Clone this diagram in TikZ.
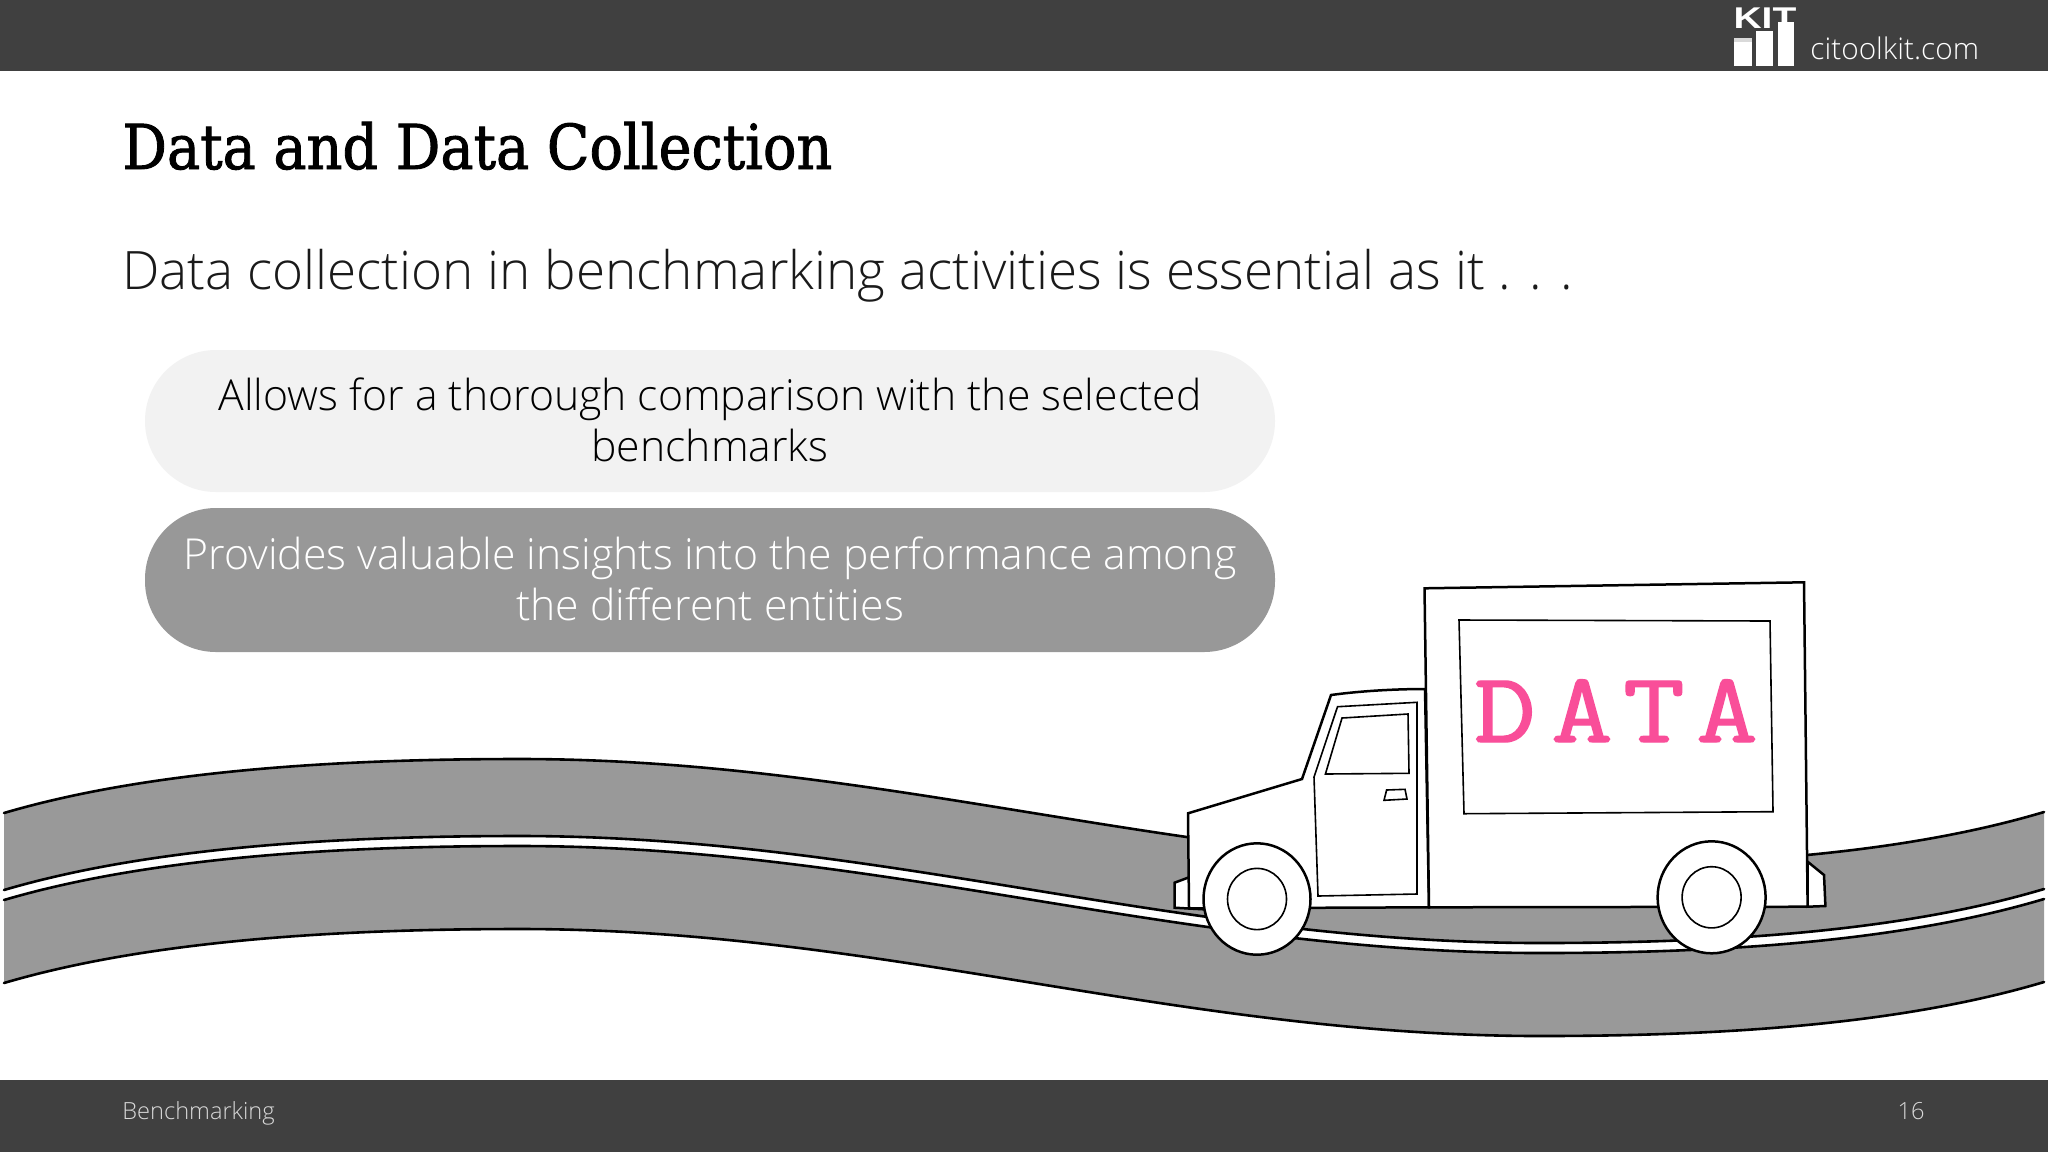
\documentclass[tikz,border=0pt]{standalone}
\usepackage{fontspec}
\setmainfont{Open Sans}[UprightFont=* Light]
\newfontfamily\titlefont{DejaVu Serif}[FakeBold=1.5]
\newfontfamily\kitfont{Liberation Sans}
\newfontfamily\datafont{Latin Modern Mono}[FakeBold=1.3]
\definecolor{barc}{HTML}{404040}
\definecolor{pillA}{HTML}{F2F2F2}
\definecolor{pillB}{HTML}{989898}
\definecolor{roadc}{HTML}{999999}
\definecolor{pinkc}{HTML}{F94E99}
\definecolor{inkc}{HTML}{1A1A1A}
\tikzset{
  bar/.style={fill=barc,draw=none},
  pill/.style={rounded corners=35.5pt},
  pilltext/.style={font=\fontsize{21.35pt}{25.5pt}\selectfont,align=center,anchor=center},
  roadline/.style={draw=black,line width=1.3pt,line cap=round},
  truckline/.style={draw=black,line width=1.25pt,fill=white,line join=miter},
  thinline/.style={draw=black,line width=0.8pt,fill=white},
  dataletter/.style={anchor=base,inner sep=0pt,text=pinkc,transform shape,xscale=1.2,font=\datafont\fontsize{50pt}{52pt}\selectfont},
}
% road curve at vertical offset #1, forward and backward
\newcommand{\rdfwd}[1]{(4,813+#1) .. controls (150,770+#1) and (340,759+#1) .. (520,759+#1) .. controls (880,759+#1) and (1180,866+#1) .. (1540,866+#1) .. controls (1720,866+#1) and (1900,855+#1) .. (2044,812+#1)}
\newcommand{\rdbwd}[1]{(2044,812+#1) .. controls (1900,855+#1) and (1720,866+#1) .. (1540,866+#1) .. controls (1180,866+#1) and (880,759+#1) .. (520,759+#1) .. controls (340,759+#1) and (150,770+#1) .. (4,813+#1)}
\begin{document}
\begin{tikzpicture}[x=0.5pt,y=-0.5pt]
\useasboundingbox (0,0) rectangle (2048,1152);
\fill[white] (0,0) rectangle (2048,1152);
\fill[bar] (0,0) rectangle (2048,71);
\fill[bar] (0,1080) rectangle (2048,1152);
% logo
\fill[white!85!black] (1734,38) rectangle (1752,66);
\fill[white] (1734,42) rectangle (1752,66);
\fill[white] (1756,31) rectangle (1773,66);
\fill[white] (1778,22) rectangle (1794,66);
\node[anchor=base west,inner sep=0pt,text=white,transform shape,xscale=1.3,font=\kitfont\bfseries\fontsize{15pt}{15pt}\selectfont] (kit) at (1733,28) {KIT};
\node[anchor=base west,inner sep=0pt,text=white,font=\fontsize{14.9pt}{18pt}\selectfont] (site) at (1810,59) {citoolkit.com};
% title
\node[anchor=base west,inner sep=0pt,text=black,transform shape,xscale=0.898,font=\titlefont\fontsize{31pt}{32pt}\selectfont] (title) at (122,169) {Data and Data Collection};
\node[anchor=base west,inner sep=0pt,text=inkc,font=\fontsize{26.5pt}{32pt}\selectfont] (sub) at (122,289) {Data collection in benchmarking activities is essential as it . . .};
% pills
\fill[pillA,pill] (145,350) rectangle (1275,492);
\fill[pillB,pill] (145,508) rectangle (1275,652);
\node[pilltext,text=black] (pa) at (710,420) {Allows for a thorough comparison with the selected\\benchmarks};
\node[pilltext,text=white] (pb) at (710,579) {Provides valuable insights into the performance among\\the different entities};
% road
\fill[roadc] \rdfwd{0} -- \rdbwd{77} -- cycle;
\fill[roadc] \rdfwd{87} -- \rdbwd{170} -- cycle;
\draw[roadline] \rdfwd{0};
\draw[roadline] \rdfwd{77};
\draw[roadline] \rdfwd{87};
\draw[roadline] \rdfwd{170};
% truck
\path[truckline] (1189,877.3) -- (1174.5,882.7) -- (1174.5,907.7) -- (1203.6,909.3) -- cycle;
\path[truckline] (1807.6,861.7) -- (1824,875) -- (1825.4,906) -- (1807.6,906.7) -- cycle;
\path[truckline] (1189,908.3) -- (1188,813.3) -- (1302,779) -- (1331,695) .. controls (1360,691) and (1395,689) .. (1425,689) -- (1429,907.3) -- cycle;
\path[thinline] (1337.5,706.7) -- (1417,702.3) -- (1417,894) -- (1318,896) -- (1314,777) -- cycle;
\path[thinline] (1342,718) -- (1408,714) -- (1409,773.3) -- (1325.4,774) -- cycle;
\path[thinline] (1386.6,790) -- (1405,789.3) -- (1407,799) -- (1384,800.3) -- cycle;
\path[truckline] (1424.5,588.3) -- (1804,582.3) -- (1807.6,906.7) -- (1429,907.3) -- cycle;
\path[thinline] (1459,620) -- (1770,621) -- (1773,811.7) -- (1464,813.7) -- cycle;
\node[dataletter] (dataD) at (1505,742) {D};
\node[dataletter] (dataA) at (1582,742) {A};
\node[dataletter] (dataT) at (1654,742) {T};
\node[dataletter] (dataB) at (1727,742) {A};
\path[truckline] (1257,899) ellipse [x radius=53.5,y radius=55.7];
\path[thinline] (1257,899) ellipse [x radius=29.5,y radius=30.6];
\path[truckline] (1711.6,897.3) ellipse [x radius=54,y radius=56];
\path[thinline] (1711.6,897.3) ellipse [x radius=29.5,y radius=30.6];
% footer
\node[anchor=base west,inner sep=0pt,text=white!85!black,font=\fontsize{11.8pt}{15pt}\selectfont] (foot) at (122,1119) {Benchmarking};
\node[anchor=base east,inner sep=0pt,text=white!85!black,font=\fontsize{11.8pt}{15pt}\selectfont] (page) at (1925,1119) {16};
\end{tikzpicture}
\end{document}
